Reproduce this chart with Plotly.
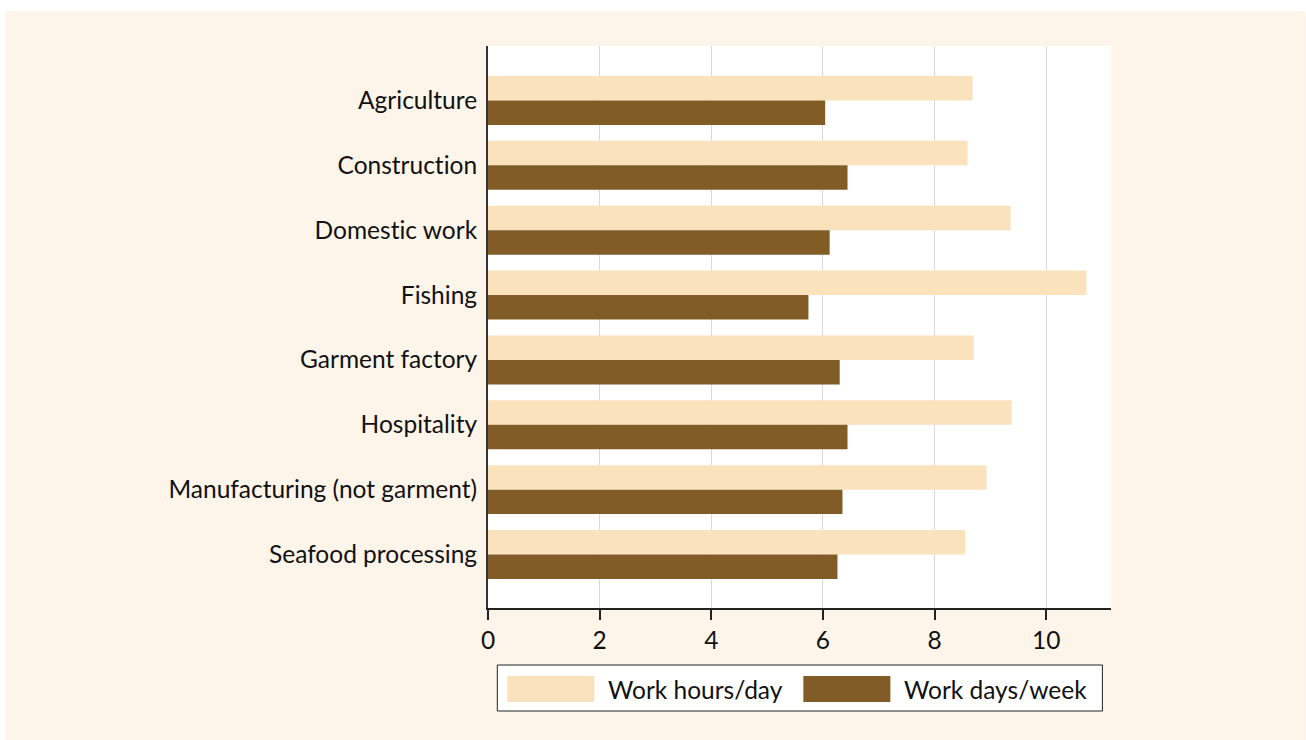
import plotly.graph_objects as go

categories = ["Agriculture", "Construction", "Domestic work", "Fishing",
              "Garment factory", "Hospitality", "Manufacturing (not garment)",
              "Seafood processing"]
hours_per_day = [8.68, 8.59, 9.36, 10.72, 8.70, 9.38, 8.93, 8.55]
days_per_week = [6.04, 6.44, 6.12, 5.74, 6.30, 6.44, 6.35, 6.26]
series_names = ["Work hours/day", "Work days/week"]
x_ticks = [0, 2, 4, 6, 8, 10]

C_HOURS = "#F9E2BC"
C_DAYS = "#815C27"
BG = "#FDF5EA"
FONT = "Lato"
FS = 24.5
W, H = 1306, 740
L, R, T, B = 487.7, 1110.6, 46, 608

fig = go.Figure()
fig.add_trace(go.Bar(y=categories, x=hours_per_day, orientation="h",
                     name=series_names[0], marker=dict(color=C_HOURS, line=dict(width=0))))
fig.add_trace(go.Bar(y=categories, x=days_per_week, orientation="h",
                     name=series_names[1], marker=dict(color=C_DAYS, line=dict(width=0))))

def px_x(p):
    return (p - L) / (R - L)

def px_y(p):
    return (B - p) / (B - T)

shapes = [
    dict(type="rect", xref="paper", yref="paper", x0=px_x(5), x1=px_x(1305),
         y0=px_y(745), y1=px_y(11), fillcolor=BG, line=dict(width=0), layer="below"),
    dict(type="rect", xref="paper", yref="paper", x0=0, x1=1, y0=0, y1=1,
         fillcolor="white", line=dict(width=0), layer="below"),
    # legend box
    dict(type="rect", xref="paper", yref="paper", x0=px_x(497), x1=px_x(1102),
         y0=px_y(711), y1=px_y(665), fillcolor="white", line=dict(color="#222", width=1)),
    dict(type="rect", xref="paper", yref="paper", x0=px_x(507), x1=px_x(594),
         y0=px_y(702), y1=px_y(676), fillcolor=C_HOURS, line=dict(width=0)),
    dict(type="rect", xref="paper", yref="paper", x0=px_x(803), x1=px_x(890),
         y0=px_y(702), y1=px_y(676), fillcolor=C_DAYS, line=dict(width=0)),
]
annotations = [
    dict(text=series_names[0], xref="paper", yref="paper", x=px_x(606), y=px_y(689),
         xanchor="left", yanchor="middle", showarrow=False,
         font=dict(family=FONT, size=FS, color="#111")),
    dict(text=series_names[1], xref="paper", yref="paper", x=px_x(902), y=px_y(689),
         xanchor="left", yanchor="middle", showarrow=False,
         font=dict(family=FONT, size=FS, color="#111")),
]

fig.update_layout(
    width=W, height=H,
    margin=dict(l=L, r=W - R, t=T, b=H - B, pad=0),
    paper_bgcolor="white", plot_bgcolor="rgba(0,0,0,0)",
    barmode="group", bargap=0.245, bargroupgap=0,
    showlegend=False,
    font=dict(family=FONT, size=FS, color="#111"),
    shapes=shapes, annotations=annotations,
)
fig.update_xaxes(range=[0, 11.16], tickvals=x_ticks, showgrid=True,
                 gridcolor="#D9D9D9", gridwidth=1.3, zeroline=False,
                 showline=True, linecolor="#222", linewidth=2,
                 ticks="outside", ticklen=10, tickwidth=2, tickcolor="#222",
                 tickfont=dict(family=FONT, size=FS, color="#111"))
fig.update_yaxes(range=[7.825, -0.84], showgrid=False, zeroline=False,
                 showline=True, linecolor="#333", linewidth=2,
                 ticks="", ticklabelstandoff=4,
                 tickfont=dict(family=FONT, size=FS, color="#111"))

post = ("document.body.style.margin='0';"
        "var s=document.createElement('style');"
        "s.textContent='text{font-variant-ligatures:none !important;}';"
        "document.head.appendChild(s);")
fig.write_html("out.html", post_script=post, config={"displayModeBar": False})
